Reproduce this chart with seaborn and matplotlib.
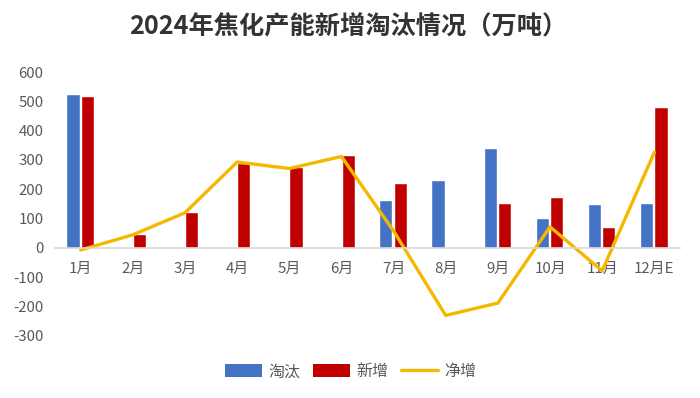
import matplotlib
matplotlib.use("Agg")
import matplotlib.pyplot as plt
import seaborn as sns
import pandas as pd
import numpy as np
from matplotlib.patches import Patch
from matplotlib.lines import Line2D

months = ["1月", "2月", "3月", "4月", "5月", "6月", "7月", "8月", "9月", "10月", "11月", "12月E"]
eliminated = [521, 0, 0, 0, 0, 0, 161, 230, 339, 99, 147, 151]
added = [514, 45, 120, 288, 271, 312, 219, 0, 151, 171, 69, 477]
net = [-7, 45, 120, 293, 271, 312, 58, -230, -188, 72, -78, 326]
series_names = ["淘汰", "新增", "净增"]
yticks = [-300, -200, -100, 0, 100, 200, 300, 400, 500, 600]

sns.set_theme(style="white")
plt.rcParams['font.family'] = ['Noto Sans CJK SC', 'DejaVu Sans']

df = pd.DataFrame({
    "month": months * 2,
    "value": eliminated + added,
    "series": [series_names[0]] * len(months) + [series_names[1]] * len(months),
})

fig = plt.figure(figsize=(7.0, 3.98), dpi=100)
ax = fig.add_axes([0.078, 0.156, 0.894, 0.663])

blue = "#4472C4"
red = "#C00000"
gold = "#F5B800"

sns.barplot(data=df, x="month", y="value", hue="series", order=months,
            hue_order=series_names[:2], palette=[blue, red], saturation=1,
            width=0.55, gap=0.15, ax=ax, legend=False,
            edgecolor="white", linewidth=0.3)
sns.lineplot(x=np.arange(len(months)), y=net, color=gold, linewidth=2.4,
             ax=ax, legend=False)

ax.set_xlim(-0.5, len(months) - 0.5)
ax.set_ylim(-300, 600)
ax.set_yticks(yticks)
ax.set_yticklabels([str(v) for v in yticks])
ax.set_xlabel("")
ax.set_ylabel("")
for s in ["top", "right", "left"]:
    ax.spines[s].set_visible(False)
ax.spines["bottom"].set_position(("data", 0))
ax.spines["bottom"].set_color("#D9D9D9")
ax.spines["bottom"].set_linewidth(1.2)
ax.tick_params(axis="both", length=0, colors="#595959", labelsize=10.8)
ax.tick_params(axis="x", pad=10)
ax.tick_params(axis="y", pad=8)

fig.suptitle("2024年焦化产能新增淘汰情况（万吨）", x=0.497, y=0.965,
             fontsize=18.2, fontweight="bold", color="#333333")

handles = [Patch(facecolor=blue, edgecolor="none"),
           Patch(facecolor=red, edgecolor="none"),
           Line2D([0], [0], color=gold, linewidth=2.4)]
fig.legend(handles, series_names, loc="center", bbox_to_anchor=(0.501, 0.066),
           ncol=3, frameon=False, fontsize=11.5, labelcolor="#595959",
           handlelength=2.35, handleheight=0.85, columnspacing=0.75, handletextpad=0.4)

fig.savefig("out.png", dpi=100)
